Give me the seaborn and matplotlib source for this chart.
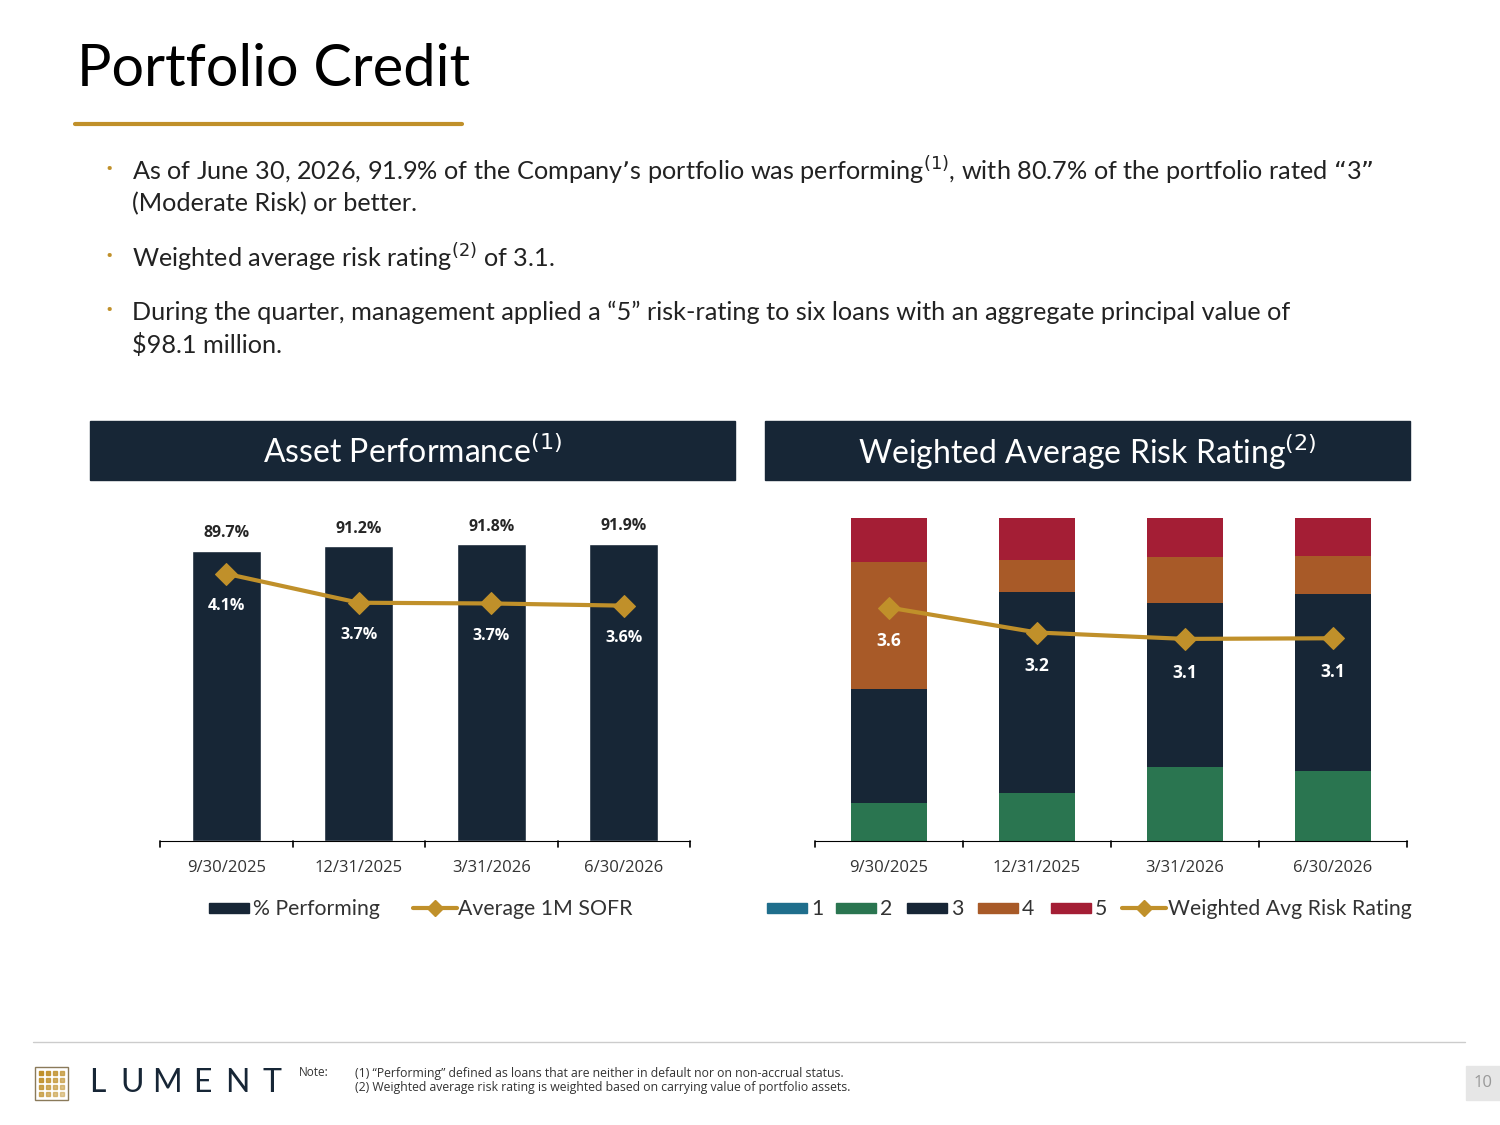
import matplotlib
matplotlib.use("Agg")
import matplotlib.pyplot as plt
import seaborn as sns
import numpy as np
from matplotlib.patches import Rectangle
from matplotlib.lines import Line2D

sns.set_style("white")
plt.rcParams['font.family'] = ['Open Sans', 'DejaVu Sans']

dates = ["9/30/2025", "12/31/2025", "3/31/2026", "6/30/2026"]
performing = [89.7, 91.2, 91.8, 91.9]
sofr = [4.1, 3.7, 3.69, 3.66]
sofr_labels = ["4.1%", "3.7%", "3.7%", "3.6%"]
r1 = [0, 0, 0, 0]
r2 = [11.8, 14.9, 22.9, 21.7]
r3 = [35.3, 62.2, 50.8, 54.8]
r4 = [39.3, 9.9, 14.2, 11.8]
r5 = [13.6, 13.0, 12.1, 11.8]
risk = [3.60, 3.21, 3.11, 3.12]
risk_labels = ["3.6", "3.2", "3.1", "3.1"]

NAVY = "#172636"; GOLD = "#C0902A"; GREEN = "#2A7550"; ORANGE = "#A85A28"
RED = "#A41E35"; TEAL = "#1F6E8C"

W, H = 1500, 1125
fig = plt.figure(figsize=(15, 11.25), dpi=100)

def ax_px(x0, y0, x1, y1):
    return fig.add_axes([x0 / W, 1 - y1 / H, (x1 - x0) / W, (y1 - y0) / H])

def T(x, y, s, **kw):
    fig.text(x / W, 1 - y / H, s, **kw)

# Title
T(77, 70, "Portfolio Credit", fontsize=41.5, color="black", va="center", family="Lato")
fig.add_artist(Line2D([75 / W, 462 / W], [1 - 124 / H] * 2, color=GOLD, lw=3))
bul = dict(fontsize=18.2, color="#222222", va="center", family="Lato")
for y in (170, 257, 311):
    T(105, y, "•", fontsize=14, color=GOLD, va="center")
T(132, 171, "As of June 30, 2026, 91.9% of the Company’s portfolio was performing$^{(1)}$, with 80.7% of the portfolio rated “3”", **bul)
T(132, 204, "(Moderate Risk) or better.", **bul)
T(132, 258, "Weighted average risk rating$^{(2)}$ of 3.1.", **bul)
T(132, 312, "During the quarter, management applied a “5” risk-rating to six loans with an aggregate principal value of", **bul)
T(132, 345, "$98.1 million.", **bul)

# Header boxes
for x0, x1, txt in [(90, 735, "Asset Performance$^{(1)}$"), (765, 1410, "Weighted Average Risk Rating$^{(2)}$")]:
    fig.add_artist(Rectangle((x0 / W, 1 - 480 / H), (x1 - x0) / W, 59 / H, color=NAVY, transform=fig.transFigure))
    T((x0 + x1) / 2, 452, txt, fontsize=23, color="white", ha="center", va="center", family="Lato")

pos = np.arange(4)

# Left chart
axL = ax_px(160, 500, 690, 841)
sns.barplot(x=pos, y=performing, color=NAVY, width=0.52, ax=axL, saturation=1, native_scale=True)
axL.set_xlim(-0.5, 3.5); axL.set_ylim(0, 105.5)
for i, v in enumerate(performing):
    axL.text(i, v + 3, f"{v}%", ha="center", va="bottom", fontsize=11.5, fontweight="bold")
axL2 = axL.twinx()
sns.lineplot(x=pos, y=sofr, color=GOLD, marker="D", markersize=11, lw=3, ax=axL2, markeredgecolor=GOLD)
axL2.set_ylim(0.414, 5.117)
for i, v in enumerate(sofr):
    axL2.text(i, v - 0.45, sofr_labels[i], ha="center", va="center",
              fontsize=11.5, fontweight="bold", color="white")

# Right chart
axR = ax_px(815, 500, 1407, 841)
bottom = np.zeros(4)
for vals, col in [(r1, TEAL), (r2, GREEN), (r3, NAVY), (r4, ORANGE), (r5, RED)]:
    sns.barplot(x=pos, y=vals, color=col, bottom=bottom.copy(), width=0.51, ax=axR, saturation=1,
                native_scale=True, linewidth=0)
    bottom += np.array(vals)
axR.set_xlim(-0.5, 3.5); axR.set_ylim(0, 105.6)
axR2 = axR.twinx()
sns.lineplot(x=pos, y=risk, color=GOLD, marker="D", markersize=11, lw=3, ax=axR2, markeredgecolor=GOLD)
axR2.set_ylim(-0.047, 5.28)
for i, v in enumerate(risk):
    axR2.text(i, v - 0.53, risk_labels[i], ha="center", va="center", fontsize=12.5, fontweight="bold", color="white")

for a in (axL, axR):
    for s in ("top", "right", "left"):
        a.spines[s].set_visible(False)
    a.spines["bottom"].set_color("black")
    a.set_yticks([])
    a.set_xticks(pos)
    a.set_xticklabels(dates, fontsize=12, color="#333333")
    a.tick_params(axis="x", length=0, pad=14)
    for b in np.arange(-0.5, 4, 1):
        a.plot([b, b], [0, -2], color="black", lw=1.2, clip_on=False)
for a in (axL2, axR2):
    a.axis("off")

# Legends
leg = dict(fontsize=15.3, color="#333333", va="center", family="Lato")
def box(x, y, c, w=40):
    fig.add_artist(Rectangle((x / W, 1 - (y + 5) / H), w / W, 10 / H, color=c, transform=fig.transFigure))
def lmark(x, y):
    fig.add_artist(Line2D([x / W, (x + 44) / W], [1 - y / H] * 2, color=GOLD, lw=3))
    fig.add_artist(Line2D([(x + 22) / W], [1 - y / H], color=GOLD, marker="D", markersize=8))
box(209, 908, NAVY); T(253, 909, "% Performing", **leg)
lmark(413, 908); T(458, 909, "Average 1M SOFR", **leg)
xs = [767, 836, 907, 978, 1051]
for x, c, n in zip(xs, [TEAL, GREEN, NAVY, ORANGE, RED], ["1", "2", "3", "4", "5"]):
    box(x, 908, c); T(x + 44, 909, n, **leg)
lmark(1122, 908); T(1168, 909, "Weighted Avg Risk Rating", **leg)

# Footer
fig.add_artist(Line2D([33 / W, 1465 / W], [1 - 1042 / H] * 2, color="#cccccc", lw=1))
fig.add_artist(Rectangle((35 / W, 1 - 1100 / H), 33 / W, 33 / H, fill=False, ec="#8a7a5a", lw=1, transform=fig.transFigure))
for i in range(4):
    for j in range(4):
        fig.add_artist(Line2D([(41 + i * 7) / W], [1 - (1073 + j * 7) / H], marker="s", markersize=2.5,
                              color=GOLD, alpha=1 - 0.18 * (i + j) / 2))
for k, ch in enumerate("LUMENT"):
    T(97 + k * 35, 1083, ch, fontsize=23, color=NAVY, va="center", ha="center", family="Lato")
T(299, 1073, "Note:", fontsize=8.5, color="#333333", va="center")
T(355, 1073, "(1) “Performing” defined as loans that are neither in default nor on non-accrual status.", fontsize=8.8, color="#333333", va="center")
T(355, 1087, "(2) Weighted average risk rating is weighted based on carrying value of portfolio assets.", fontsize=8.8, color="#333333", va="center")
fig.add_artist(Rectangle((1466 / W, 1 - 1100 / H), 34 / W, 34 / H, color="#e6e6e6", transform=fig.transFigure))
T(1483, 1083, "10", fontsize=12, color="#999999", ha="center", va="center")

fig.savefig("out.png", dpi=100)
